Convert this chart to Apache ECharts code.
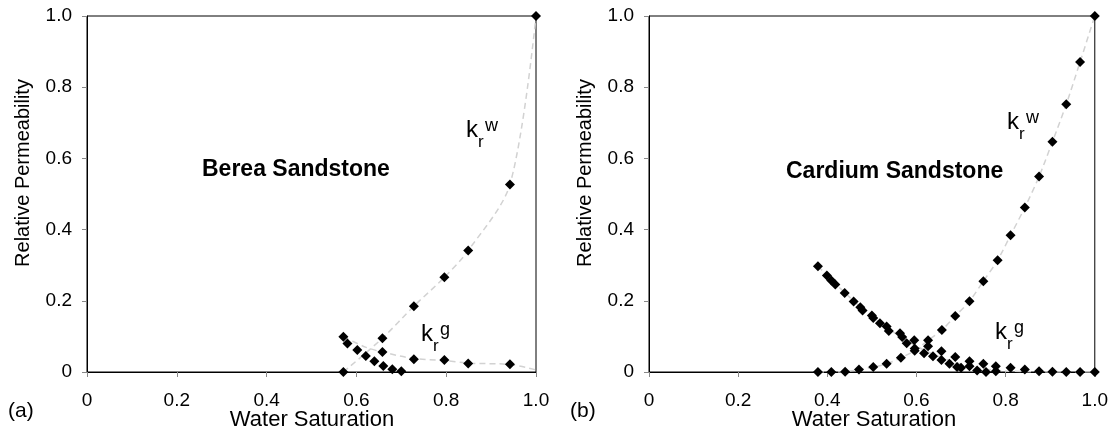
<!DOCTYPE html>
<html>
<head>
<meta charset="utf-8">
<script src="https://cdn.jsdelivr.net/npm/echarts@6/dist/echarts.min.js"></script>
<style>
  html, body { margin: 0; padding: 0; background: #fff; }
  #chart { width: 1111px; height: 434px; }
</style>
</head>
<body>
<div id="chart"></div>
<script>
// tick labels shared by both axes
const tickLabels = ['0', '0.2', '0.4', '0.6', '0.8', '1.0']

// (a) Berea Sandstone  [water saturation, relative permeability]
const bereaKrw = [
  [0.571, 0], [0.658, 0.095], [0.728, 0.185], [0.796, 0.266],
  [0.849, 0.341], [0.942, 0.527], [1.0, 1.0]
]
const bereaKrg = [
  [0.571, 0.099], [0.58, 0.08], [0.602, 0.062], [0.621, 0.045],
  [0.64, 0.030], [0.66, 0.017], [0.68, 0.0075], [0.70, 0.002],
  [0.658, 0.056], [0.728, 0.036], [0.796, 0.034], [0.849, 0.024], [0.942, 0.022]
]
const bereaKrgTrend = [
  [0.571, 0.099], [0.62, 0.07], [0.658, 0.056], [0.728, 0.038],
  [0.796, 0.032], [0.849, 0.025], [0.942, 0.021], [1.0, 0.006]
]

// (b) Cardium Sandstone
const cardiumKrw = [
  [0.379, 0], [0.409, 0], [0.440, 0.001], [0.471, 0.007], [0.503, 0.014],
  [0.533, 0.023], [0.565, 0.040], [0.596, 0.060], [0.626, 0.089], [0.657, 0.118],
  [0.687, 0.157], [0.719, 0.199], [0.750, 0.255], [0.782, 0.314], [0.811, 0.384],
  [0.843, 0.462], [0.875, 0.549], [0.905, 0.647], [0.936, 0.752], [0.967, 0.871], [1.0, 1.0]
]
const cardiumKrg = [
  [0.379, 0.297], [0.399, 0.271], [0.409, 0.257], [0.418, 0.246], [0.439, 0.222],
  [0.459, 0.198], [0.474, 0.182], [0.479, 0.173], [0.500, 0.159], [0.503, 0.152],
  [0.518, 0.137], [0.533, 0.128], [0.538, 0.115], [0.563, 0.109], [0.568, 0.098],
  [0.578, 0.081], [0.595, 0.089], [0.596, 0.066], [0.617, 0.053], [0.626, 0.072],
  [0.637, 0.044], [0.656, 0.058], [0.656, 0.034], [0.674, 0.023], [0.687, 0.042],
  [0.691, 0.014], [0.700, 0.012], [0.719, 0.030], [0.719, 0.016], [0.736, 0.004],
  [0.750, 0.023], [0.756, 0.0], [0.778, 0.016], [0.778, 0.002], [0.811, 0.012],
  [0.843, 0.007], [0.875, 0.002], [0.905, 0.001], [0.936, 0], [0.967, 0], [1.0, 0]
]
const cardiumKrgTrend = [
  [0.379, 0.297], [0.44, 0.222], [0.50, 0.155], [0.56, 0.102], [0.62, 0.060],
  [0.68, 0.030], [0.74, 0.011], [0.80, 0.003], [0.90, 0], [1.0, 0]
]

const FONT = '"Liberation Sans", Arial, sans-serif'
const chart = echarts.init(document.getElementById('chart'))

const makeX = (grid) => ({
  type: 'value', gridIndex: grid, min: 0, max: 1, interval: 0.2,
  axisLine: { lineStyle: { color: '#000', width: 1 } },
  axisTick: { show: true, length: 5, lineStyle: { color: '#888' } },
  axisLabel: {
    margin: 19, fontSize: 19, color: '#000', fontFamily: FONT,
    formatter: v => tickLabels[Math.round(v * 5)]
  },
  splitLine: { show: false }
})
const makeY = (grid) => ({
  type: 'value', gridIndex: grid, min: 0, max: 1, interval: 0.2,
  axisLine: { show: true, lineStyle: { color: '#000', width: 1 } },
  axisTick: { show: true, length: 5, lineStyle: { color: '#888' } },
  axisLabel: {
    margin: 15, fontSize: 19, color: '#000', fontFamily: FONT,
    formatter: v => tickLabels[Math.round(v * 5)]
  },
  splitLine: { show: false }
})

const dash = { color: '#d2d2d2', width: 1.5, type: [6, 4] }
const marker = { color: '#000', opacity: 1 }

const lineSeries = (data, idx, withSymbol) => ({
  type: 'line', xAxisIndex: idx, yAxisIndex: idx, data,
  smooth: 0.3, symbol: withSymbol ? 'diamond' : 'none', symbolSize: 10,
  itemStyle: marker, lineStyle: dash, z: withSymbol ? 3 : 2, silent: true
})
const scatterSeries = (data, idx) => ({
  type: 'scatter', xAxisIndex: idx, yAxisIndex: idx, data,
  symbol: 'diamond', symbolSize: 10, itemStyle: marker, z: 4, silent: true
})

// k_r^w / k_r^g label made of three texts
const kLabel = (x, y, sup) => ({
  type: 'group', x, y, silent: true,
  children: [
    { type: 'text', style: { text: 'k', x: 0, y: 0, font: '24px ' + FONT, fill: '#000', verticalAlign: 'bottom' } },
    { type: 'text', style: { text: 'r', x: 12, y: 9, font: '17px ' + FONT, fill: '#000', verticalAlign: 'bottom' } },
    { type: 'text', style: { text: sup, x: 19, y: -7, font: '18px ' + FONT, fill: '#000', verticalAlign: 'bottom' } }
  ]
})

const option = {
  animation: false,
  backgroundColor: '#fff',
  textStyle: { fontFamily: FONT },
  grid: [
    { left: 87, right: 575, top: 16, bottom: 62, show: true, borderColor: '#000', borderWidth: 1 },
    { left: 649, right: 13, top: 16, bottom: 62, show: true, borderColor: '#000', borderWidth: 1 }
  ],
  xAxis: [makeX(0), makeX(1)],
  yAxis: [makeY(0), makeY(1)],
  series: [
    lineSeries(bereaKrgTrend, 0, false),
    lineSeries(bereaKrw, 0, true),
    scatterSeries(bereaKrg, 0),
    lineSeries(cardiumKrgTrend, 1, false),
    lineSeries(cardiumKrw, 1, true),
    scatterSeries(cardiumKrg, 1)
  ],
  graphic: [
    { type: 'text', left: 202, top: 158, style: { text: 'Berea Sandstone', font: 'bold 23px ' + FONT, fill: '#000' } },
    { type: 'text', left: 786, top: 160, style: { text: 'Cardium Sandstone', font: 'bold 23px ' + FONT, fill: '#000' } },
    { type: 'text', x: 312, y: 420, style: { text: 'Water Saturation', font: '22px ' + FONT, fill: '#000', align: 'center', verticalAlign: 'middle' } },
    { type: 'text', x: 874, y: 420, style: { text: 'Water Saturation', font: '22px ' + FONT, fill: '#000', align: 'center', verticalAlign: 'middle' } },
    { type: 'text', x: 23, y: 173, rotation: Math.PI / 2, style: { text: 'Relative Permeability', font: '20px ' + FONT, fill: '#000', align: 'center', verticalAlign: 'middle' } },
    { type: 'text', x: 585, y: 173, rotation: Math.PI / 2, style: { text: 'Relative Permeability', font: '20px ' + FONT, fill: '#000', align: 'center', verticalAlign: 'middle' } },
    { type: 'text', x: 8, y: 411, style: { text: '(a)', font: '21px ' + FONT, fill: '#000', verticalAlign: 'middle' } },
    { type: 'text', x: 570, y: 411, style: { text: '(b)', font: '21px ' + FONT, fill: '#000', verticalAlign: 'middle' } },
    kLabel(466, 142, 'w'),
    kLabel(421, 346, 'g'),
    kLabel(1007, 134, 'w'),
    kLabel(995, 344, 'g')
  ]
}

chart.setOption(option)
</script>
</body>
</html>
